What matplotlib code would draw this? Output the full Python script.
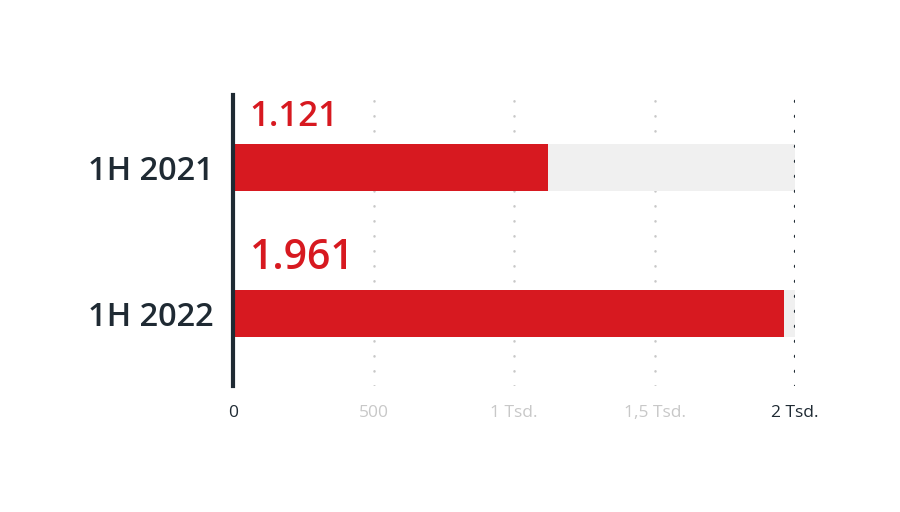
import matplotlib
matplotlib.use("Agg")
from matplotlib import pyplot as plt

# data
categories = ["1H 2021", "1H 2022"]
values = [1121, 1961]
value_labels = ["1.121", "1.961"]
value_sizes = [25, 29.5]
max_value = 2000
tick_values = [0, 500, 1000, 1500, 2000]
tick_labels = ["0", "500", "1 Tsd.", "1,5 Tsd.", "2 Tsd."]

RED = "#d71920"
DARK = "#1f2a33"
LIGHT = "#c8c8c8"
BG_BAR = "#f0f0f0"

plt.rcParams['font.family'] = ['Open Sans', 'DejaVu Sans']

fig = plt.figure(figsize=(9, 5.12), dpi=100)
W, H = 900, 512
# axes in pixel coordinates: x 233..795, y 95..386 (top-down)
ax = fig.add_axes([233 / W, 1 - 386 / H, (795 - 233) / W, (386 - 95) / H])

ypos = list(range(len(categories)))
bar_h = 0.325

ax.barh(ypos, [max_value] * len(values), height=bar_h, color=BG_BAR, zorder=1)
ax.barh(ypos, values, height=bar_h, color=RED, zorder=2)

# dotted grid lines
for v in tick_values[1:]:
    if v == max_value:
        ax.axvline(v, color=DARK, linestyle=(0, (0.1, 4.4)), linewidth=2.4,
                   dash_capstyle='round', zorder=3)
    else:
        ax.axvline(v, color=LIGHT, linestyle=(0, (0.1, 5.9)), linewidth=1.8,
                   dash_capstyle='round', zorder=0)

for y, lbl, fs in zip(ypos, value_labels, value_sizes):
    ax.text(60, y - bar_h / 2 - 0.07, lbl, color=RED, fontsize=fs,
            fontweight='semibold', ha='left', va='bottom')

ax.set_xlim(0, max_value)
ax.set_ylim(1.5, -0.5)
ax.set_yticks(ypos)
ax.set_yticklabels(categories, fontsize=23.5, color=DARK, fontweight='semibold')
ax.tick_params(axis='y', length=0, pad=14)
ax.set_xticks(tick_values)
ax.set_xticklabels(tick_labels, fontsize=12.5)
ax.tick_params(axis='x', length=0, pad=14)
for t, v in zip(ax.get_xticklabels(), tick_values):
    t.set_color(DARK if v in (0, max_value) else LIGHT)

for s in ["top", "right", "bottom"]:
    ax.spines[s].set_visible(False)
ax.spines["left"].set_color(DARK)
ax.spines["left"].set_linewidth(3)
ax.spines["left"].set_zorder(5)

fig.savefig("out.png", dpi=100)
